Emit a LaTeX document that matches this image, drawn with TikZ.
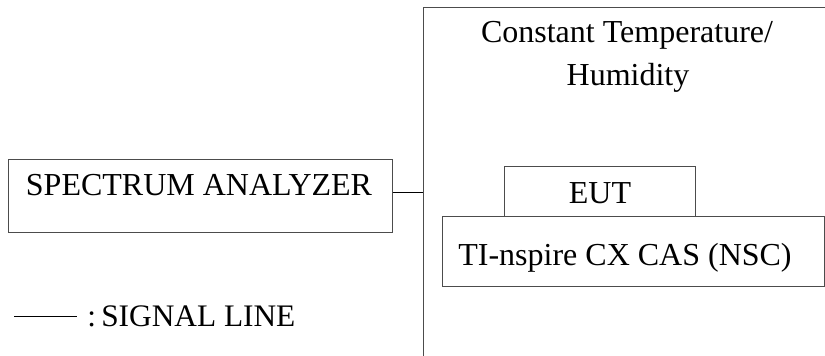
\documentclass[tikz,border=0pt]{standalone}
\usepackage{fontspec}
\setmainfont{Liberation Serif}
\usetikzlibrary{fit}
\tikzset{
  box/.style={draw=black!70,line width=0.75pt,inner sep=0pt,fit={#1}},
  lbl/.style={font=\fontsize{24}{28}\selectfont,inner sep=0pt},
  wire/.style={draw=black,line width=0.75pt}
}
\begin{document}
\begin{tikzpicture}[x=0.75pt,y=-0.75pt]
  \useasboundingbox (0,0) rectangle (825,356);
  % chamber walls
  \coordinate (wallT) at (825,7.5);
  \coordinate (wallC) at (423,7.5);
  \coordinate (wallB) at (423,356);
  \coordinate (wall) at (423,193);
  \draw[wire,draw=black!70] (wallT) -- (wallC) -- (wallB);
  \node[lbl] (chamber) at (627,35) {Constant Temperature/};
  \node[lbl] (humid) at (628,78) {Humidity};

  \node[box={(8,160)(392,233)}] (sa) {};
  \node[lbl] (satext) at (199,185) {SPECTRUM ANALYZER};

  \node[box={(504,167)(695,217)}] (eut) {};
  \node[lbl] (euttext) at (600,193) {EUT};
  \node[box={(442,217)(824,286)}] (host) {};
  \node[lbl] (hosttext) at (625,258) {TI-nspire CX CAS (NSC)};

  \draw[wire] (sa.east |- wall) -- (wall);

  % legend
  \coordinate (legA) at (14,316);
  \coordinate (legB) at (77,316);
  \draw[wire,line width=0.5pt] (legA) -- (legB);
  \node[lbl,anchor=west,font=\fontsize{23.5}{28}\selectfont] (legtext) at (87,316) {:\kern4pt SIGNAL LINE};
\end{tikzpicture}
\end{document}
